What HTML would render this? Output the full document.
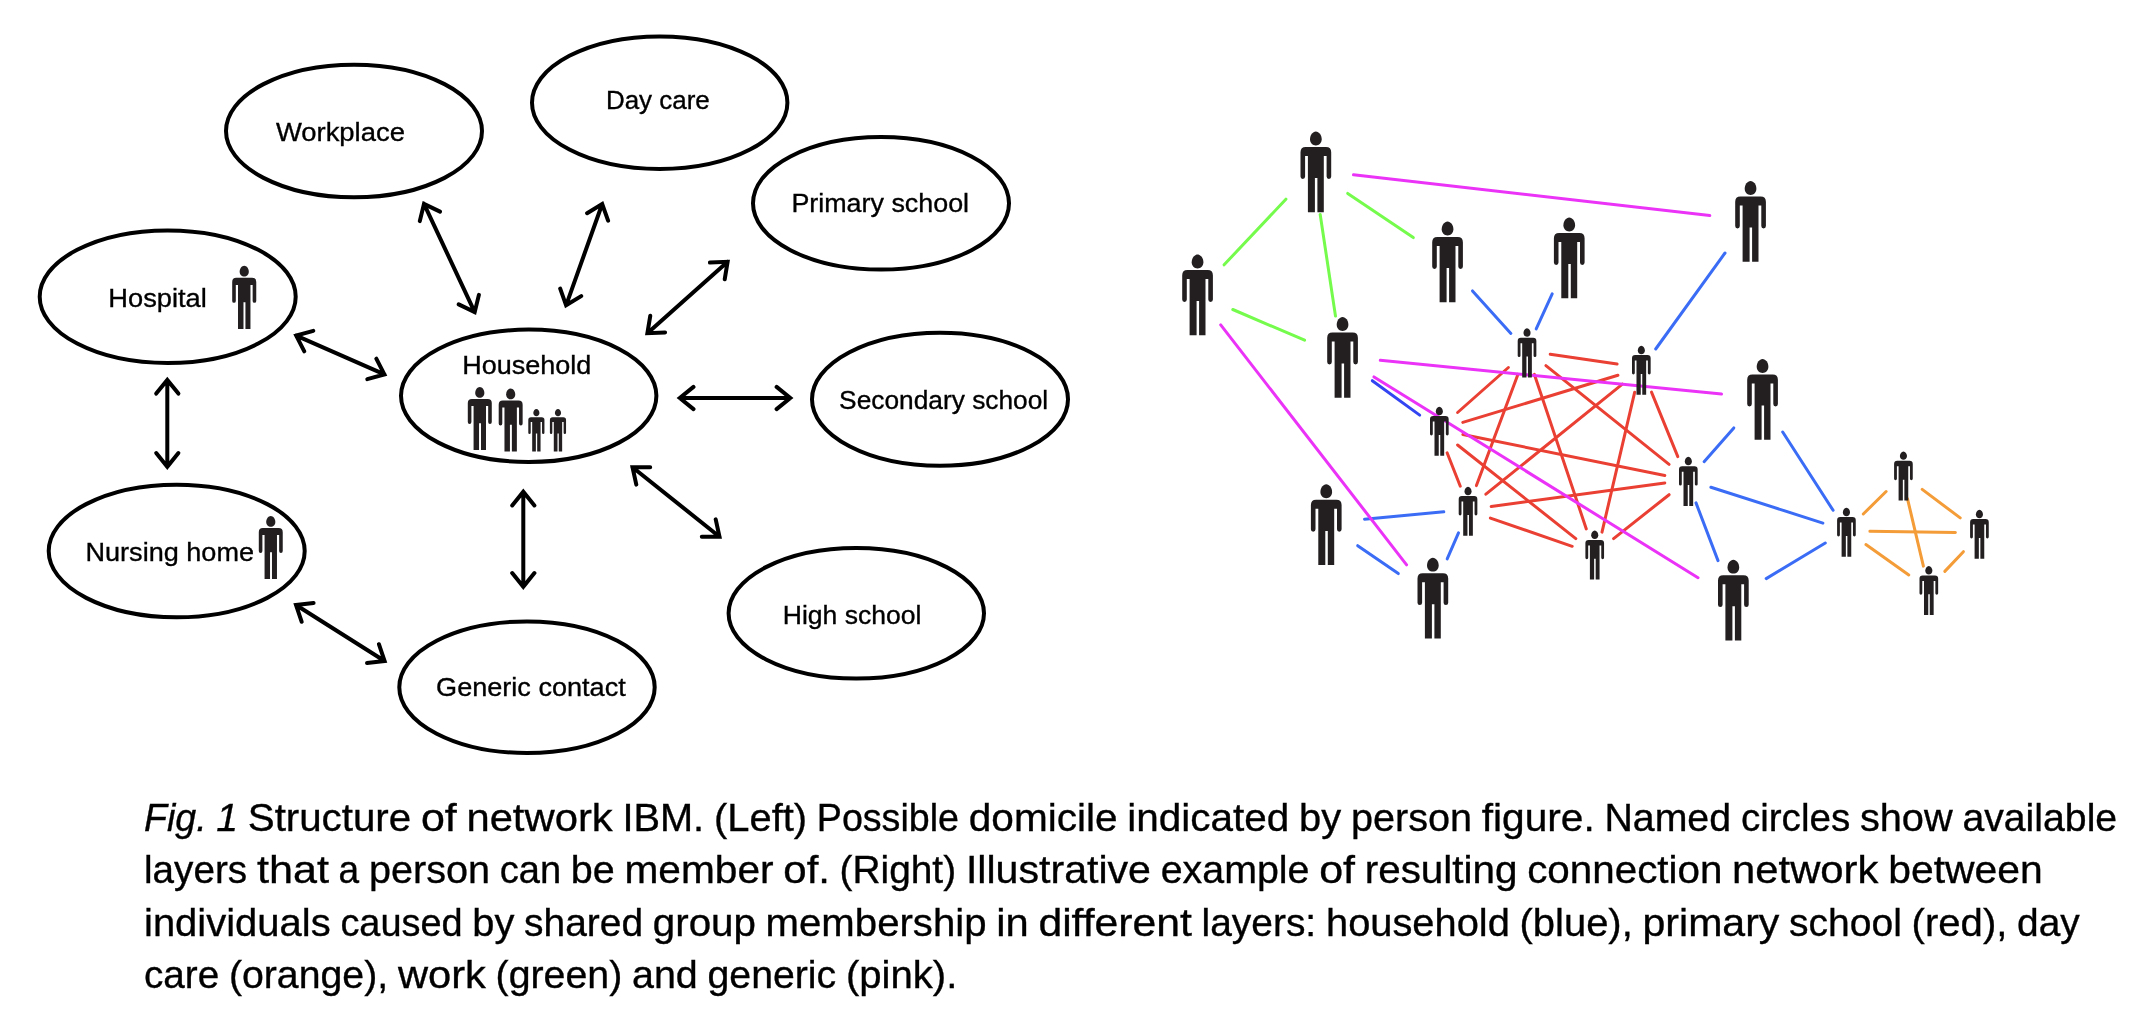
<!DOCTYPE html><html><head><meta charset="utf-8"><title>Fig. 1 Structure of network IBM</title>
<style>html,body{margin:0;padding:0;background:#fff;}svg{display:block;will-change:transform;}text{font-family:"Liberation Sans",sans-serif;fill:#000;stroke:#000;stroke-width:0.35px;}</style></head><body>
<svg width="2150" height="1026" viewBox="0 0 2150 1026">
<rect width="100%" height="100%" fill="#fff"/>
<defs><g id="p" fill="#231f20"><path d="M15.35,0C18.5,0 21.2,3.7 21.2,7.7C21.2,11.3 18.6,13.9 15.35,13.9C12.1,13.9 9.5,11.3 9.5,7.7C9.5,3.7 12.2,0 15.35,0Z"/><path d="M5.2,15.5H25.5Q30.7,15.5 30.7,20.7V45Q30.7,47.4 28.4,47.4Q26.1,47.4 26.1,45V24.5H23.3V80.8H16.9V46.6H14.4V80.8H7.4V24.5H4.6V45Q4.6,47.4 2.3,47.4Q0,47.4 0,45V20.7Q0,15.5 5.2,15.5Z"/></g></defs>
<g fill="none" stroke="#000" stroke-width="4">
<ellipse cx="354" cy="131" rx="128" ry="66.3"/>
<ellipse cx="659.7" cy="102.7" rx="127.7" ry="66.3"/>
<ellipse cx="881" cy="203.3" rx="128" ry="66.3"/>
<ellipse cx="167.7" cy="296.7" rx="128" ry="66.3"/>
<ellipse cx="528.7" cy="395.8" rx="127.7" ry="66.2"/>
<ellipse cx="940" cy="399.2" rx="128" ry="66.5"/>
<ellipse cx="176.7" cy="551" rx="128" ry="66.3"/>
<ellipse cx="527" cy="687.2" rx="127.7" ry="65.8"/>
<ellipse cx="856.3" cy="613.3" rx="127.7" ry="65.3"/>
</g>
<g font-size="26.5">
<text x="275.9" y="141.0" textLength="129.0" lengthAdjust="spacingAndGlyphs">Workplace</text>
<text x="605.9" y="109.0" textLength="103.9" lengthAdjust="spacingAndGlyphs">Day care</text>
<text x="791.4" y="212.3" textLength="177.7" lengthAdjust="spacingAndGlyphs">Primary school</text>
<text x="108.3" y="307.3" textLength="98.5" lengthAdjust="spacingAndGlyphs">Hospital</text>
<text x="462.2" y="374.3" textLength="129.0" lengthAdjust="spacingAndGlyphs">Household</text>
<text x="839.1" y="409.0" textLength="209.1" lengthAdjust="spacingAndGlyphs">Secondary school</text>
<text x="85.5" y="560.7" textLength="168.5" lengthAdjust="spacingAndGlyphs">Nursing home</text>
<text x="436.1" y="696.0" textLength="189.6" lengthAdjust="spacingAndGlyphs">Generic contact</text>
<text x="782.8" y="624.3" textLength="138.6" lengthAdjust="spacingAndGlyphs">High school</text>
</g>
<g fill="none" stroke="#000" stroke-width="4" stroke-linecap="round" stroke-linejoin="miter" stroke-miterlimit="10">
<path d="M424.0,203.9L474.7,312.1M419.8,221.1L424.0,203.9L440.0,211.6M478.9,294.9L474.7,312.1L458.7,304.4"/>
<path d="M602.2,204.0L566.1,305.3M587.1,213.2L602.2,204.0L608.1,220.7M581.2,296.1L566.1,305.3L560.2,288.6"/>
<path d="M727.6,261.8L647.4,333.2M709.9,262.6L727.6,261.8L724.7,279.3M665.1,332.4L647.4,333.2L650.3,315.7"/>
<path d="M679.8,398.0L790.3,398.0M693.5,409.1L679.8,398.0L693.5,386.9M776.6,386.9L790.3,398.0L776.6,409.1"/>
<path d="M632.5,467.3L719.5,536.7M636.3,484.6L632.5,467.3L650.2,467.2M715.7,519.4L719.5,536.7L701.8,536.8"/>
<path d="M523.3,491.8L523.3,586.8M512.2,505.5L523.3,491.8L534.4,505.5M534.4,573.1L523.3,586.8L512.2,573.1"/>
<path d="M296.2,335.6L384.4,374.4M304.3,351.3L296.2,335.6L313.3,330.9M376.3,358.7L384.4,374.4L367.3,379.1"/>
<path d="M167.3,379.9L167.3,466.8M156.2,393.6L167.3,379.9L178.4,393.6M178.4,453.1L167.3,466.8L156.2,453.1"/>
<path d="M296.0,605.0L384.6,661.0M301.7,621.8L296.0,605.0L313.6,602.9M378.9,644.2L384.6,661.0L367.0,663.1"/>
</g>
<use href="#p" transform="translate(232.2,265.7) scale(0.7834)"/>
<use href="#p" transform="translate(258.8,516.0) scale(0.7797)"/>
<use href="#p" transform="translate(467.8,386.9) scale(0.7809)"/>
<use href="#p" transform="translate(498.7,388.5) scale(0.7797)"/>
<use href="#p" transform="translate(528.3,409.0) scale(0.5260)"/>
<use href="#p" transform="translate(549.9,409.0) scale(0.5260)"/>
<g fill="none" stroke-width="3" stroke-linecap="round">
<path stroke="#ea3f33" d="M1550.2,354.2L1617.1,364.1"/>
<path stroke="#ea3f33" d="M1508.4,367.5L1457.6,412.5"/>
<path stroke="#ea3f33" d="M1517.9,374.4L1476.4,485.6"/>
<path stroke="#ea3f33" d="M1534.4,374.4L1586.3,528.9"/>
<path stroke="#ea3f33" d="M1545.9,365.7L1669.1,464.3"/>
<path stroke="#ea3f33" d="M1617.9,375.3L1462.8,422.4"/>
<path stroke="#ea3f33" d="M1622.4,384.1L1485.9,494.2"/>
<path stroke="#ea3f33" d="M1634.7,392.2L1602.0,532.1"/>
<path stroke="#ea3f33" d="M1651.5,392.1L1677.8,456.6"/>
<path stroke="#ea3f33" d="M1447.1,452.8L1460.3,486.2"/>
<path stroke="#ea3f33" d="M1457.6,445.0L1575.8,538.6"/>
<path stroke="#ea3f33" d="M1462.9,434.5L1664.8,475.5"/>
<path stroke="#ea3f33" d="M1490.4,518.1L1572.2,546.3"/>
<path stroke="#ea3f33" d="M1491.2,506.5L1664.8,482.9"/>
<path stroke="#ea3f33" d="M1613.6,538.6L1669.1,494.7"/>
<path stroke="#f39c38" d="M1863.3,514.0L1886.1,491.5"/>
<path stroke="#f39c38" d="M1869.9,531.3L1955.4,532.5"/>
<path stroke="#f39c38" d="M1865.9,544.6L1908.8,574.9"/>
<path stroke="#f39c38" d="M1922.2,489.4L1960.2,517.9"/>
<path stroke="#f39c38" d="M1907.5,498.8L1923.4,566.1"/>
<path stroke="#f39c38" d="M1963.4,551.7L1944.8,571.4"/>
<path stroke="#75fb4c" d="M1285.9,199.2L1224.1,264.8"/>
<path stroke="#75fb4c" d="M1320.2,214.5L1335.5,316.1"/>
<path stroke="#75fb4c" d="M1347.7,193.4L1413.3,237.6"/>
<path stroke="#75fb4c" d="M1232.8,309.5L1304.6,340.2"/>
<path stroke="#3a6cf6" d="M1472.5,290.9L1510.9,333.4"/>
<path stroke="#3a6cf6" d="M1552.2,293.8L1536.2,328.9"/>
<path stroke="#3a6cf6" d="M1725.0,253.0L1655.7,349.0"/>
<path stroke="#3344f2" d="M1372.3,380.7L1419.7,415.1"/>
<path stroke="#3a6cf6" d="M1364.5,519.2L1443.8,511.8"/>
<path stroke="#3a6cf6" d="M1357.7,545.7L1398.3,573.6"/>
<path stroke="#3a6cf6" d="M1447.2,558.9L1458.5,532.8"/>
<path stroke="#3a6cf6" d="M1733.8,427.9L1704.1,461.7"/>
<path stroke="#3a6cf6" d="M1782.7,432.0L1833.1,510.3"/>
<path stroke="#3a6cf6" d="M1710.9,487.2L1822.9,523.1"/>
<path stroke="#3a6cf6" d="M1696.0,502.9L1718.0,560.6"/>
<path stroke="#3a6cf6" d="M1766.2,578.6L1825.3,543.0"/>
<path stroke="#ea33f7" d="M1353.5,174.8L1709.8,215.6"/>
<path stroke="#ea33f7" d="M1380.3,360.3L1721.5,394.1"/>
<path stroke="#ea33f7" d="M1220.7,324.9L1406.6,564.8"/>
<path stroke="#ea33f7" d="M1374.0,376.9L1698.0,577.7"/>
</g>
<use href="#p" transform="translate(1300.5,131.5) scale(1.0000)"/>
<use href="#p" transform="translate(1182.2,254.5) scale(1.0000)"/>
<use href="#p" transform="translate(1327.2,317.0) scale(1.0000)"/>
<use href="#p" transform="translate(1432.2,221.5) scale(1.0000)"/>
<use href="#p" transform="translate(1553.9,217.5) scale(1.0000)"/>
<use href="#p" transform="translate(1735.2,181.0) scale(1.0000)"/>
<use href="#p" transform="translate(1747.2,359.0) scale(1.0000)"/>
<use href="#p" transform="translate(1310.9,484.3) scale(1.0000)"/>
<use href="#p" transform="translate(1417.5,557.7) scale(1.0000)"/>
<use href="#p" transform="translate(1718.0,559.7) scale(1.0000)"/>
<use href="#p" transform="translate(1517.7,328.3) scale(0.6077)"/>
<use href="#p" transform="translate(1632.0,345.7) scale(0.6077)"/>
<use href="#p" transform="translate(1430.0,406.7) scale(0.6077)"/>
<use href="#p" transform="translate(1458.7,486.7) scale(0.6077)"/>
<use href="#p" transform="translate(1585.4,530.5) scale(0.6077)"/>
<use href="#p" transform="translate(1679.0,456.8) scale(0.6077)"/>
<use href="#p" transform="translate(1837.1,507.7) scale(0.6077)"/>
<use href="#p" transform="translate(1894.1,451.4) scale(0.6077)"/>
<use href="#p" transform="translate(1970.1,509.7) scale(0.6077)"/>
<use href="#p" transform="translate(1919.5,566.0) scale(0.6077)"/>
<g font-size="38.5">
<text x="144.0" y="830.6" textLength="62.6" lengthAdjust="spacingAndGlyphs" font-style="italic">Fig.</text>
<text x="216.3" y="830.6" textLength="21.8" lengthAdjust="spacingAndGlyphs" font-style="italic">1</text>
<text x="247.8" y="830.6" textLength="163.3" lengthAdjust="spacingAndGlyphs">Structure</text>
<text x="420.9" y="830.6" textLength="35.8" lengthAdjust="spacingAndGlyphs">of</text>
<text x="466.4" y="830.6" textLength="146.3" lengthAdjust="spacingAndGlyphs">network</text>
<text x="622.4" y="830.6" textLength="81.8" lengthAdjust="spacingAndGlyphs">IBM.</text>
<text x="714.0" y="830.6" textLength="93.1" lengthAdjust="spacingAndGlyphs">(Left)</text>
<text x="816.8" y="830.6" textLength="142.2" lengthAdjust="spacingAndGlyphs">Possible</text>
<text x="968.8" y="830.6" textLength="148.8" lengthAdjust="spacingAndGlyphs">domicile</text>
<text x="1127.3" y="830.6" textLength="162.1" lengthAdjust="spacingAndGlyphs">indicated</text>
<text x="1299.1" y="830.6" textLength="42.1" lengthAdjust="spacingAndGlyphs">by</text>
<text x="1350.9" y="830.6" textLength="121.1" lengthAdjust="spacingAndGlyphs">person</text>
<text x="1481.7" y="830.6" textLength="113.1" lengthAdjust="spacingAndGlyphs">figure.</text>
<text x="1604.4" y="830.6" textLength="126.7" lengthAdjust="spacingAndGlyphs">Named</text>
<text x="1740.9" y="830.6" textLength="109.3" lengthAdjust="spacingAndGlyphs">circles</text>
<text x="1859.9" y="830.6" textLength="92.8" lengthAdjust="spacingAndGlyphs">show</text>
<text x="1962.4" y="830.6" textLength="154.8" lengthAdjust="spacingAndGlyphs">available</text>
<text x="144.0" y="883.2" textLength="103.1" lengthAdjust="spacingAndGlyphs">layers</text>
<text x="256.9" y="883.2" textLength="72.0" lengthAdjust="spacingAndGlyphs">that</text>
<text x="338.6" y="883.2" textLength="20.6" lengthAdjust="spacingAndGlyphs">a</text>
<text x="368.9" y="883.2" textLength="121.1" lengthAdjust="spacingAndGlyphs">person</text>
<text x="499.7" y="883.2" textLength="61.4" lengthAdjust="spacingAndGlyphs">can</text>
<text x="570.8" y="883.2" textLength="44.0" lengthAdjust="spacingAndGlyphs">be</text>
<text x="624.5" y="883.2" textLength="149.1" lengthAdjust="spacingAndGlyphs">member</text>
<text x="783.3" y="883.2" textLength="46.7" lengthAdjust="spacingAndGlyphs">of.</text>
<text x="839.6" y="883.2" textLength="116.5" lengthAdjust="spacingAndGlyphs">(Right)</text>
<text x="965.9" y="883.2" textLength="185.1" lengthAdjust="spacingAndGlyphs">Illustrative</text>
<text x="1160.7" y="883.2" textLength="148.8" lengthAdjust="spacingAndGlyphs">example</text>
<text x="1319.2" y="883.2" textLength="35.8" lengthAdjust="spacingAndGlyphs">of</text>
<text x="1364.7" y="883.2" textLength="152.8" lengthAdjust="spacingAndGlyphs">resulting</text>
<text x="1527.2" y="883.2" textLength="195.2" lengthAdjust="spacingAndGlyphs">connection</text>
<text x="1732.1" y="883.2" textLength="146.3" lengthAdjust="spacingAndGlyphs">network</text>
<text x="1888.2" y="883.2" textLength="154.5" lengthAdjust="spacingAndGlyphs">between</text>
<text x="144.0" y="935.8" textLength="186.7" lengthAdjust="spacingAndGlyphs">individuals</text>
<text x="340.4" y="935.8" textLength="122.2" lengthAdjust="spacingAndGlyphs">caused</text>
<text x="472.3" y="935.8" textLength="42.1" lengthAdjust="spacingAndGlyphs">by</text>
<text x="524.1" y="935.8" textLength="119.0" lengthAdjust="spacingAndGlyphs">shared</text>
<text x="652.8" y="935.8" textLength="103.1" lengthAdjust="spacingAndGlyphs">group</text>
<text x="765.6" y="935.8" textLength="220.9" lengthAdjust="spacingAndGlyphs">membership</text>
<text x="996.3" y="935.8" textLength="32.5" lengthAdjust="spacingAndGlyphs">in</text>
<text x="1038.4" y="935.8" textLength="153.5" lengthAdjust="spacingAndGlyphs">different</text>
<text x="1201.6" y="935.8" textLength="114.6" lengthAdjust="spacingAndGlyphs">layers:</text>
<text x="1326.0" y="935.8" textLength="183.8" lengthAdjust="spacingAndGlyphs">household</text>
<text x="1519.5" y="935.8" textLength="113.3" lengthAdjust="spacingAndGlyphs">(blue),</text>
<text x="1642.5" y="935.8" textLength="136.9" lengthAdjust="spacingAndGlyphs">primary</text>
<text x="1789.1" y="935.8" textLength="112.8" lengthAdjust="spacingAndGlyphs">school</text>
<text x="1911.6" y="935.8" textLength="95.8" lengthAdjust="spacingAndGlyphs">(red),</text>
<text x="2017.1" y="935.8" textLength="62.7" lengthAdjust="spacingAndGlyphs">day</text>
<text x="144.0" y="988.4" textLength="75.2" lengthAdjust="spacingAndGlyphs">care</text>
<text x="228.9" y="988.4" textLength="159.3" lengthAdjust="spacingAndGlyphs">(orange),</text>
<text x="397.9" y="988.4" textLength="88.0" lengthAdjust="spacingAndGlyphs">work</text>
<text x="495.6" y="988.4" textLength="126.7" lengthAdjust="spacingAndGlyphs">(green)</text>
<text x="632.0" y="988.4" textLength="65.8" lengthAdjust="spacingAndGlyphs">and</text>
<text x="707.5" y="988.4" textLength="128.7" lengthAdjust="spacingAndGlyphs">generic</text>
<text x="845.9" y="988.4" textLength="111.5" lengthAdjust="spacingAndGlyphs">(pink).</text>
</g>
</svg></body></html>
